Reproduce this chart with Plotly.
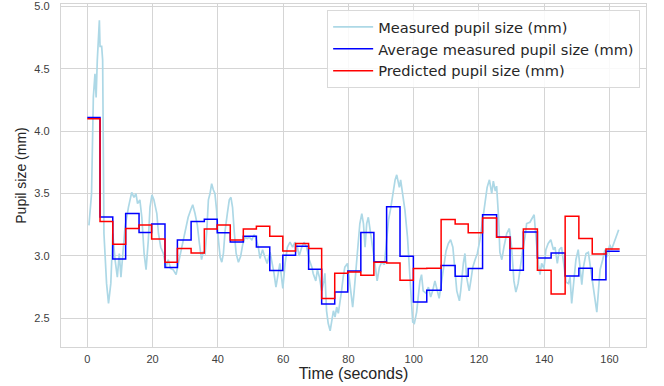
import plotly.graph_objects as go

# ---- measured pupil size (raw trace) ----
meas_t = [0.5, 1.3, 1.85, 2.35, 2.7, 3.06, 3.7, 3.9, 4.4, 4.7, 5.1, 5.9, 6.5, 7.2, 7.8, 8.5, 9.2, 9.8, 10.3, 10.8,
          11.55, 12.6, 13.6, 14.3, 14.9, 15.4, 16.1, 16.7, 17.4, 18.0, 18.7, 19.2, 19.8, 20.4, 21.3, 21.8, 22.5, 23.3,
          24.1, 24.8, 25.5, 26.3, 27.2, 27.9, 28.9, 29.9, 30.9, 31.7, 32.3, 33.0, 33.7, 34.3, 35.0, 35.5, 36.1, 36.6,
          37.1, 37.6, 38.1, 38.6, 39.1, 39.6, 40.1, 40.7, 41.2, 41.7, 42.2, 42.9, 43.5, 44.0, 44.5, 45.0, 45.6, 46.3,
          47.0, 47.6, 48.3, 49.0, 49.6, 50.4, 51.1, 51.7, 52.4, 52.9, 53.7, 54.4, 55.1, 56.0, 56.5, 57.2, 57.8, 58.5,
          59.0, 59.9, 60.6, 61.3, 62.1, 62.9, 63.6, 64.3, 64.9, 65.7, 66.4, 67.2, 68.0, 68.8, 69.2, 70.0, 70.5, 71.1,
          71.8, 72.5, 72.8, 73.3, 73.8, 74.4, 74.9, 75.4, 75.9, 76.4, 76.9, 77.4, 77.9, 78.4, 78.9, 79.7, 80.3, 80.8,
          81.3, 81.7, 82.3, 83.0, 83.5, 84.1, 84.6, 85.1, 85.6, 86.1, 86.6, 87.4, 88.1, 88.8, 89.5, 90.2, 91.0, 91.5,
          92.3, 93.0, 93.6, 94.3, 94.8, 95.6, 96.0, 96.6, 97.3, 98.1, 98.7, 99.2, 99.7, 100.2, 100.9, 101.9, 102.4,
          102.9, 103.8, 104.5, 105.2, 105.8, 106.5, 107.8, 108.6, 109.3, 109.9, 110.6, 111.3, 112.0, 112.7, 113.2,
          114.0, 114.4, 115.2, 115.7, 116.2, 117.0, 117.5, 118.1, 118.8, 119.5, 120.3, 121.1, 121.8, 122.5, 123.2,
          123.9, 124.4, 125.0, 125.4, 126.0, 126.4, 127.0, 127.7, 128.5, 129.3, 130.0, 130.7, 131.3, 132.0, 132.8,
          133.4, 134.1, 134.6, 135.6, 136.9, 137.2, 137.7, 138.2, 138.7, 139.2, 139.9, 140.5, 141.2, 142.0, 142.8,
          143.3, 144.0, 144.6, 145.3, 146.0, 146.7, 147.4, 147.9, 148.4, 149.1, 149.7, 150.4, 150.9, 151.5, 152.0,
          152.8, 153.5, 154.0, 154.5, 155.0, 155.5, 156.1, 156.6, 157.1, 157.9, 158.6, 159.1, 159.6, 160.1, 160.6,
          161.3, 162.1, 162.8]
meas_v = [3.245, 3.50, 4.275, 4.46, 4.27, 4.57, 4.89, 4.68, 4.68, 4.57, 3.18, 2.78, 2.62, 2.78, 3.18, 2.97, 2.83, 3.02,
          2.83, 3.02, 3.23, 3.39, 3.51, 3.47, 3.50, 3.42, 3.45, 3.31, 3.02, 2.89, 3.13, 3.39, 3.49, 3.45, 3.34, 3.18,
          3.07, 3.02, 2.91, 2.97, 2.90, 2.89, 2.85, 2.94, 3.07, 3.19, 3.31, 3.37, 3.41, 3.34, 3.25, 3.11, 2.97, 3.03,
          3.02, 3.20, 3.45, 3.50, 3.58, 3.53, 3.50, 3.37, 3.15, 2.99, 2.95, 3.02, 3.20, 3.34, 3.45, 3.47, 3.39, 3.20,
          3.02, 2.95, 3.00, 3.09, 3.15, 3.14, 3.15, 3.13, 3.17, 3.14, 3.07, 2.98, 3.05, 2.99, 2.94, 3.03, 2.97, 2.86,
          2.75, 2.86, 2.94, 2.74, 2.94, 3.07, 3.11, 3.07, 3.11, 3.08, 3.00, 3.07, 3.11, 3.07, 2.97, 2.91, 2.86, 2.80,
          2.89, 2.83, 2.72, 2.80, 2.86, 2.56, 2.46, 2.40, 2.48, 2.56, 2.51, 2.59, 2.54, 2.62, 2.72, 2.83, 2.91, 2.94,
          2.80, 2.72, 2.59, 2.70, 2.91, 3.13, 3.26, 3.34, 3.26, 3.07, 3.26, 3.31, 3.20, 3.07, 2.94, 2.80, 2.91, 2.95,
          2.93, 3.07, 3.29, 3.39, 3.50, 3.61, 3.65, 3.55, 3.61, 3.51, 3.37, 3.15, 2.91, 2.67, 2.47, 2.46, 2.55, 2.80,
          2.85, 2.72, 2.70, 2.75, 2.67, 2.72, 2.80, 2.66, 2.82, 2.95, 3.04, 3.10, 3.13, 3.07, 2.83, 2.72, 2.64, 2.72,
          2.94, 3.02, 2.83, 2.72, 2.80, 2.91, 2.97, 3.02, 3.13, 3.29, 3.45, 3.55, 3.61, 3.50, 3.60, 3.52, 3.56, 3.31,
          3.03, 2.97, 3.08, 3.18, 3.22, 3.07, 2.80, 2.71, 2.78, 2.94, 3.05, 3.15, 3.26, 3.27, 3.33, 3.23, 3.05, 2.93,
          2.85, 2.94, 2.90, 3.05, 3.10, 3.13, 3.05, 3.07, 2.94, 3.05, 3.07, 2.94, 2.79, 2.78, 2.83, 2.62, 2.78, 2.97,
          3.05, 2.89, 2.77, 2.91, 3.02, 3.03, 2.94, 2.83, 2.78, 2.67, 2.55, 2.72, 2.89, 2.97, 3.05, 2.99, 3.05, 3.09,
          3.05, 3.10, 3.15, 3.21]

# ---- window boundaries (seconds) for the averaged / predicted values ----
window_edges = [0, 3.9, 7.8, 11.75, 15.85, 19.7, 23.8, 27.6, 31.8, 35.85, 39.8, 43.8, 47.8, 51.8, 55.9, 59.9, 63.8,
                67.8, 71.8, 75.8, 79.8, 83.8, 87.8, 91.7, 95.8, 99.9, 104.0, 108.4, 112.7, 116.7, 121.1, 125.4, 129.5,
                133.6, 137.9, 142.1, 146.4, 150.6, 154.7, 158.9, 163.1]

avg_measured = [4.11, 3.313, 2.976, 3.34, 3.188, 3.257, 2.907, 3.128, 3.276, 3.294, 3.185, 3.112, 3.158, 3.072,
                2.883, 3.005, 3.078, 2.893, 2.615, 2.711, 2.88, 3.188, 2.953, 3.395, 2.998, 2.63, 2.725, 2.924,
                2.837, 2.9, 3.33, 3.152, 2.885, 3.193, 2.984, 3.024, 2.84, 2.901, 2.81, 3.038]

predicted = [4.10, 3.276, 3.094, 3.22, 3.249, 3.136, 2.95, 3.059, 3.024, 3.217, 3.249, 3.128, 3.217, 3.238,
             3.158, 3.04, 3.099, 3.059, 2.658, 2.861, 2.872, 2.845, 2.95, 2.944, 2.805, 2.899, 2.902, 3.293,
             3.257, 3.185, 3.305, 3.15, 3.059, 3.217, 2.885, 2.695, 3.318, 3.139, 3.016, 3.056]

x_ticks = [0, 20, 40, 60, 80, 100, 120, 140, 160]
y_ticks = [2.5, 3.0, 3.5, 4.0, 4.5, 5.0]

FONT = "Liberation Sans, Arial, sans-serif"

step_x = window_edges
avg_y = avg_measured + [avg_measured[-1]]
pred_y = predicted + [predicted[-1]]

fig = go.Figure()
fig.add_trace(go.Scatter(x=meas_t, y=meas_v, mode="lines", name="Measured pupil size (mm)",
                         line=dict(color="#add8e6", width=1.7)))
fig.add_trace(go.Scatter(x=step_x, y=avg_y, mode="lines", name="Average measured pupil size (mm)",
                         line=dict(color="#0000ff", width=1.5, shape="hv")))
fig.add_trace(go.Scatter(x=step_x, y=pred_y, mode="lines", name="Predicted pupil size (mm)",
                         line=dict(color="#ff0000", width=1.5, shape="hv")))

fig.update_layout(
    width=664, height=386,
    margin=dict(l=61, r=18, t=4, b=39, autoexpand=False),
    paper_bgcolor="white", plot_bgcolor="white",
    font=dict(family=FONT, color="#262626"),
    showlegend=True,
    legend=dict(x=0.99, y=0.983, xanchor="right", yanchor="top",
                bgcolor="rgba(255,255,255,0.85)", bordercolor="#d9d9d9", borderwidth=1,
                font=dict(size=14.6, family="DejaVu Sans, sans-serif", color="#262626"),
                itemwidth=40, tracegroupgap=0),
)
fig.update_xaxes(range=[-8.06, 171.17], tickvals=x_ticks, showgrid=True, gridcolor="#d5d5d5", gridwidth=1,
                 zeroline=False, showline=True, linecolor="#d5d5d5", linewidth=1.3, mirror=True, automargin=False,
                 ticks="", tickfont=dict(size=11, color="#404040"), ticklabelstandoff=2,
                 title=dict(text="Time (seconds)", font=dict(size=16, color="#262626"), standoff=0))
fig.update_yaxes(range=[2.27, 5.02], tickvals=y_ticks, tickformat=".1f", showgrid=True, gridcolor="#d5d5d5",
                 gridwidth=1, zeroline=False, showline=True, linecolor="#d5d5d5", linewidth=1.3, mirror=True,
                 automargin=False,
                 ticks="", tickfont=dict(size=11, color="#404040"), ticklabelstandoff=8,
                 title=dict(text="Pupil size (mm)", font=dict(size=14, color="#262626"), standoff=4))

fig.write_html("out.html", config={"displayModeBar": False},
               post_script="document.body.style.margin='0px';")
